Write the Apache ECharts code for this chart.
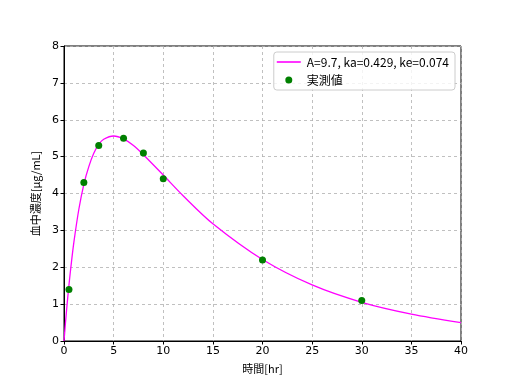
<!DOCTYPE html>
<html><head><meta charset="utf-8">
<script src="https://cdn.jsdelivr.net/npm/echarts@6/dist/echarts.min.js"></script>
<style>html,body{margin:0;padding:0;background:#fff}#c{width:512px;height:384px}</style>
</head><body><div id="c"></div>
<script>
var curveT = [0, 0.25, 0.5, 0.75, 1, 1.5, 2, 2.5, 3, 3.5, 4, 5, 6, 7, 8, 10, 12, 15, 20, 25, 30, 35, 40];
var curveC = [0, 0.81, 1.52, 2.14, 2.69, 3.58, 4.25, 4.73, 5.09, 5.33, 5.47, 5.56, 5.48, 5.30, 5.05, 4.50, 3.94, 3.18, 2.21, 1.52, 1.05, 0.73, 0.50];
var obsT = [0.5, 2, 3.5, 6, 8, 10, 20, 30];
var obsC = [1.4, 4.3, 5.3, 5.5, 5.1, 4.4, 2.2, 1.1];
var lineName = 'A=9.7, ka=0.429, ke=0.074';
var obsName = '実測値';

var chart = echarts.init(document.getElementById('c'), null, {renderer: 'canvas'});
var font = 'DejaVu Sans, "Noto Sans CJK JP", sans-serif';
var jfont = '"Noto Sans CJK JP", DejaVu Sans, sans-serif';
var splitLine = {show: true, lineStyle: {color: '#b0b0b0', type: [3, 3], width: 0.8}};
chart.setOption({
  animation: false,
  backgroundColor: '#fff',
  grid: {left: 64, right: 51, top: 46, bottom: 43, show: true, borderColor: '#000', borderWidth: 1},
  legend: {
    right: 57, top: 52, orient: 'vertical', itemWidth: 24, itemHeight: 7, itemGap: 4,
    borderColor: '#cccccc', borderWidth: 1, borderRadius: 3, padding: [3, 6, 3, 3],
    backgroundColor: 'rgba(255,255,255,0.8)',
    textStyle: {fontFamily: jfont, fontSize: 12, color: '#000', padding: [0, 0, 0, 1], lineHeight: 14},
    data: [
      {name: lineName, icon: 'path://M0,0 L24,0 L24,1.6 L0,1.6 Z'},
      {name: obsName, icon: 'circle'}
    ]
  },
  xAxis: {
    type: 'value', min: 0, max: 40, interval: 5,
    name: '時間[hr]', nameLocation: 'middle', nameGap: 22,
    nameTextStyle: {fontFamily: jfont, fontSize: 11, color: '#000'},
    axisLine: {show: true, onZero: false, lineStyle: {color: '#000', width: 1}},
    axisTick: {show: true, length: 3.5, lineStyle: {color: '#000'}},
    axisLabel: {fontFamily: font, fontSize: 11, color: '#000', margin: 5},
    splitLine: splitLine
  },
  yAxis: {
    type: 'value', min: 0, max: 8, interval: 1,
    name: '血中濃度[μg/mL]', nameLocation: 'middle', nameGap: 19, nameRotate: 90,
    nameTextStyle: {fontFamily: jfont, fontSize: 11, color: '#000'},
    axisLine: {show: true, onZero: false, lineStyle: {color: '#000', width: 1}},
    axisTick: {show: true, length: 3.5, lineStyle: {color: '#000'}},
    axisLabel: {fontFamily: font, fontSize: 11, color: '#000', margin: 5},
    splitLine: splitLine
  },
  series: [
    {
      name: lineName, type: 'line', showSymbol: false, smooth: 0.3,
      lineStyle: {color: '#ff00ff', width: 1.3}, itemStyle: {color: '#ff00ff'},
      data: curveT.map(function (t, i) { return [t, curveC[i]]; }), z: 2
    },
    {
      name: obsName, type: 'scatter', symbol: 'circle', symbolSize: 7,
      itemStyle: {color: '#008000', opacity: 1},
      data: obsT.map(function (t, i) { return [t, obsC[i]]; }), z: 3
    }
  ]
});
</script></body></html>
